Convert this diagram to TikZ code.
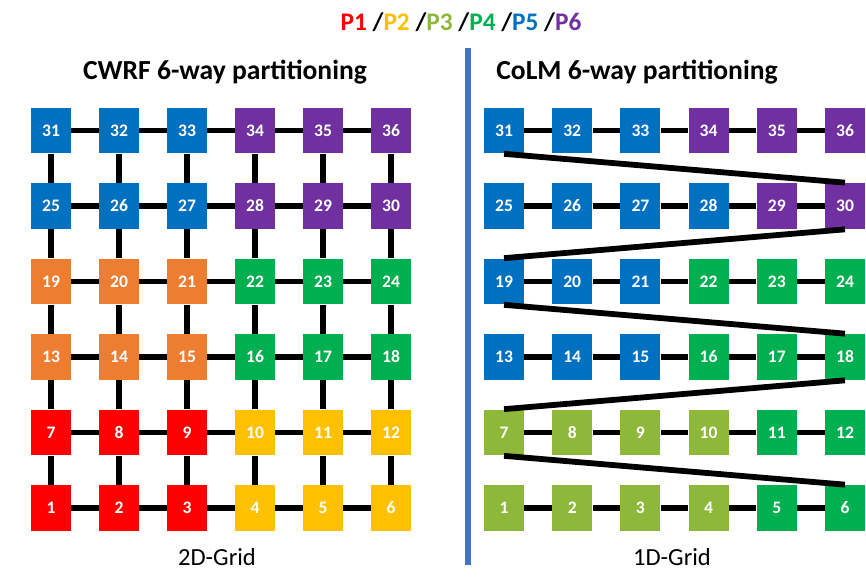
\documentclass[tikz,border=0pt]{standalone}
\usepackage{fontspec}
\setmainfont{Carlito}
\usetikzlibrary{positioning}
\definecolor{pone}{HTML}{FF0000}
\definecolor{ptwo}{HTML}{FFC000}
\definecolor{pthree}{HTML}{8DB83A}
\definecolor{pfour}{HTML}{00B050}
\definecolor{pfive}{HTML}{0070C0}
\definecolor{psix}{HTML}{7030A0}
\definecolor{porange}{HTML}{ED7D31}
\definecolor{sepblue}{HTML}{4472C4}
\tikzset{
  cell/.style={fill=#1, minimum width=0.8cm, minimum height=0.92cm, inner sep=0pt, text=white, font=\bfseries\fontsize{10}{11}\selectfont},
  link/.style={draw=black, line width=3.3pt},
  title/.style={font=\bfseries\fontsize{15.7}{18}\selectfont, anchor=base},
  caption/.style={font=\fontsize{14}{16}\selectfont, anchor=base},
}

\begin{document}
\begin{tikzpicture}[x=0.02cm, y=-0.02cm]
  \useasboundingbox (0,0) rectangle (866,587);
  % legend
  \node[font=\bfseries\fontsize{14.4}{16}\selectfont, anchor=base] (legend) at (461,31)
    {\textcolor{pone}{P1} /\textcolor{ptwo}{P2} /\textcolor{pthree}{P3} /\textcolor{pfour}{P4} /\textcolor{pfive}{P5} /\textcolor{psix}{P6}};
  \node[title] (ltitle) at (225,80) {CWRF 6-way partitioning};
  \node[title] (rtitle) at (637,80) {CoLM 6-way partitioning};
  % left grid, 2D
  \foreach \r/\ca/\cb in {1/pone/ptwo, 2/pone/ptwo, 3/porange/pfour, 4/porange/pfour, 5/pfive/psix, 6/pfive/psix} {
    \foreach \c in {1,...,6} {
      \pgfmathtruncatemacro\n{6*(\r-1)+\c}
      \ifnum\c<4 \edef\col{\ca}\else\edef\col{\cb}\fi
      \node[cell=\col] (l\n) at (51+68*\c-68, 508-75.5*\r+75.5) {\n};
    }
  }
  \foreach \r in {1,...,6} \foreach \c in {1,...,5} {
    \pgfmathtruncatemacro\n{6*(\r-1)+\c}
    \pgfmathtruncatemacro\m{\n+1}
    \draw[link] (l\n.east) -- (l\m.west);
  }
  \foreach \n in {1,...,30} {
    \pgfmathtruncatemacro\m{\n+6}
    \draw[link] (l\n.north) -- (l\m.south);
  }
  % right grid, 1D
  \foreach \r/\k/\ca/\cb in {1/4/pthree/pfour, 2/4/pthree/pfour, 3/3/pfive/pfour, 4/3/pfive/pfour, 5/4/pfive/psix, 6/3/pfive/psix} {
    \foreach \c in {1,...,6} {
      \pgfmathtruncatemacro\n{6*(\r-1)+\c}
      \ifnum\c>\k \edef\col{\cb}\else\edef\col{\ca}\fi
      \node[cell=\col] (r\n) at (504+68.2*\c-68.2, 508-75.5*\r+75.5) {\n};
    }
  }
  \foreach \r in {1,...,6} \foreach \c in {1,...,5} {
    \pgfmathtruncatemacro\n{6*(\r-1)+\c}
    \pgfmathtruncatemacro\m{\n+1}
    \draw[link] (r\n.east) -- (r\m.west);
  }
  \foreach \a/\b in {31/30, 30/19, 19/18, 18/7, 7/6} \draw[link] (r\a.south) -- (r\b.north);
  % separator
  \coordinate (septop) at (468,48);
  \coordinate (sepbot) at (468,565);
  \draw[sepblue, line width=0.12cm] (septop) -- (sepbot);
  \node[caption] (lcap) at (217,565) {2D-Grid};
  \node[caption] (rcap) at (672,565) {1D-Grid};
\end{tikzpicture}
\end{document}
